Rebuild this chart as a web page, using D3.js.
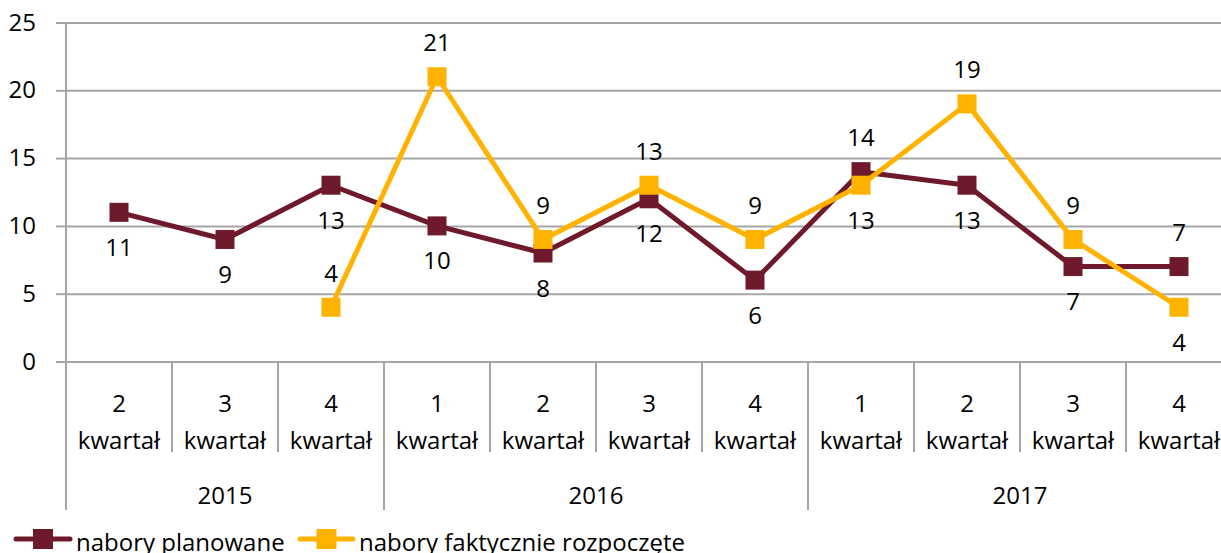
<!DOCTYPE html>
<html><head><meta charset="utf-8">
<script src="https://cdn.jsdelivr.net/npm/d3@7"></script>
<style>
html,body{margin:0;padding:0;background:#fff;overflow:hidden}
text{font-family:"Open Sans",sans-serif;fill:#000}
</style></head>
<body>
<svg id="c" width="1221" height="553"></svg>
<script>
const quarters = ["2","3","4","1","2","3","4","1","2","3","4"];
const years = [{name:"2015",count:3},{name:"2016",count:4},{name:"2017",count:4}];
const planned = [11, 9, 13, 10, 8, 12, 6, 14, 13, 7, 7];
const actual = [null, null, 4, 21, 9, 13, 9, 13, 19, 9, 4];
const plannedLabelPos = ["b","b","b","b","b","b","b","a","b","b","a"];
const actualLabelPos = [null,null,"a","a","a","a","a","b","a","a","b"];
const yTicks = [0,5,10,15,20,25];
const seriesNames = ["nabory planowane","nabory faktycznie rozpoczęte"];
const colors = ["#6E1A2C","#FFB300"];

const svg = d3.select("#c");
const left = 66, bandW = 106, n = quarters.length;
const x = d3.scaleBand().domain(d3.range(n)).range([left, left + bandW*n]).padding(0);
const y = d3.scaleLinear().domain([0,25]).range([361.5, 22.5]);
const fs = 24;

// gridlines
const grid = svg.append("g").attr("transform",`translate(${left},0)`)
  .call(d3.axisLeft(y).tickValues(yTicks).tickSize(-(1221-left)).tickFormat(""));
grid.select(".domain").remove();
grid.selectAll("line").attr("stroke","#A6A6A6").attr("stroke-width",2);

// y axis
const yAx = svg.append("g").attr("transform",`translate(${left},0)`)
  .call(d3.axisLeft(y).tickValues(yTicks).tickSize(10).tickPadding(20));
yAx.select(".domain").remove();
yAx.selectAll("line").attr("stroke","#A6A6A6").attr("stroke-width",2);
yAx.selectAll("text").attr("font-size",fs).attr("font-family","'Open Sans',sans-serif").attr("fill","#000");
svg.append("line").attr("x1",left).attr("x2",left).attr("y1",y(25)).attr("y2",510)
  .attr("stroke","#A6A6A6").attr("stroke-width",2);

// category separators
const y0 = y(0);
let starts = [0]; years.forEach((yr,i)=>starts.push(starts[i]+yr.count));
for (let i=1;i<=n;i++){
  const isYear = starts.includes(i);
  svg.append("line").attr("x1",x(i-1)+bandW).attr("x2",x(i-1)+bandW)
    .attr("y1",y0).attr("y2",isYear?510:452).attr("stroke","#A6A6A6").attr("stroke-width",2);
}
// quarter labels
quarters.forEach((q,i)=>{
  const cx = x(i)+bandW/2;
  svg.append("text").attr("x",cx).attr("y",402).attr("text-anchor","middle").attr("dominant-baseline","central").attr("font-size",fs).text(q);
  svg.append("text").attr("x",cx).attr("y",439).attr("text-anchor","middle").attr("dominant-baseline","central").attr("font-size",fs).text("kwartał");
});
years.forEach((yr,i)=>{
  const cx = (x(starts[i]) + x(starts[i+1]-1)+bandW)/2;
  svg.append("text").attr("x",cx).attr("y",494).attr("text-anchor","middle").attr("dominant-baseline","central").attr("font-size",fs).text(yr.name);
});

function drawSeries(vals, color){
  const line = d3.line().defined(d=>d!=null).x((d,i)=>x(i)+bandW/2).y(d=>y(d));
  svg.append("path").datum(vals).attr("d",line).attr("fill","none").attr("stroke",color)
    .attr("stroke-width",5).attr("stroke-linejoin","round");
  const ms = 19;
  vals.forEach((v,i)=>{
    if (v==null) return;
    const cx = x(i)+bandW/2, cy = y(v);
    svg.append("rect").attr("x",cx-ms/2).attr("y",cy-ms/2).attr("width",ms).attr("height",ms).attr("fill",color);
  });
}
drawSeries(planned, colors[0]);
drawSeries(actual, colors[1]);
function labels(vals,pos){
  vals.forEach((v,i)=>{
    if (v==null) return;
    const cx = x(i)+bandW/2, cy = y(v) + (pos[i]==="a"?-35:34);
    svg.append("text").attr("x",cx).attr("y",cy).attr("text-anchor","middle").attr("dominant-baseline","central").attr("font-size",fs).text(v);
  });
}
labels(planned, plannedLabelPos);
labels(actual, actualLabelPos);

// legend
const legY = 539;
const leg = [{x1:16,x2:70,tx:76},{x1:300,x2:353,tx:359}];
seriesNames.forEach((nm,i)=>{
  const L = leg[i];
  svg.append("line").attr("x1",L.x1).attr("x2",L.x2).attr("y1",legY).attr("y2",legY).attr("stroke",colors[i]).attr("stroke-width",5).attr("stroke-linecap","round");
  svg.append("rect").attr("x",(L.x1+L.x2)/2-10).attr("y",legY-10).attr("width",20).attr("height",20).attr("fill",colors[i]);
  svg.append("text").attr("x",L.tx).attr("y",legY+2).attr("dominant-baseline","central").attr("font-size",fs).text(nm);
});
</script>
</body></html>
